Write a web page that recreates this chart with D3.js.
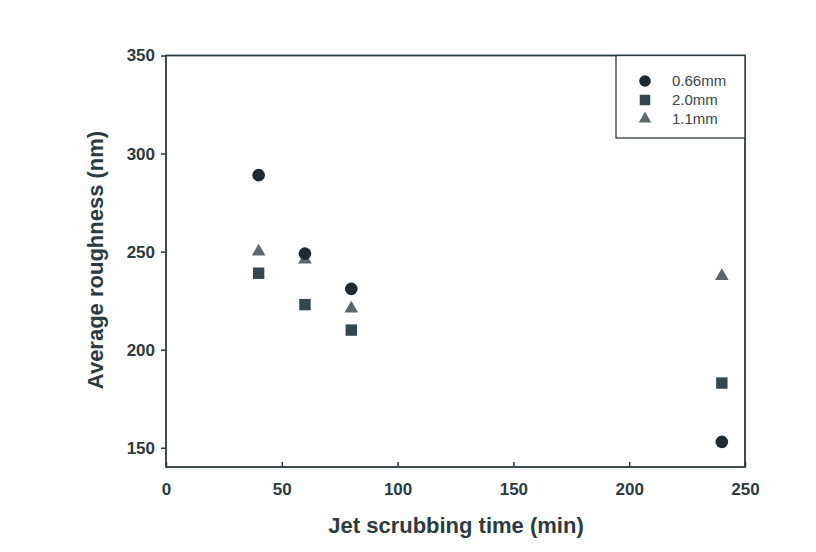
<!DOCTYPE html>
<html><head><meta charset="utf-8">
<script src="https://cdn.jsdelivr.net/npm/d3@7"></script>
<style>body{margin:0;background:#fff;}svg{display:block;}</style>
</head><body>
<svg id="chart" width="816" height="552"></svg>
<script>
const times = [40, 60, 80, 240];
const seriesNames = ["0.66mm", "2.0mm", "1.1mm"];
const rough066 = [289, 249, 231, 153];
const rough20 = [239, 223, 210, 183];
const rough11 = [250, 246, 221, 237.5];
const xTicks = [0, 50, 100, 150, 200, 250];
const yTicks = [150, 200, 250, 300, 350];

const svg = d3.select("#chart");
const axisColor = "#2b3b42";
const x = d3.scaleLinear().domain([0, 250]).range([166, 745]);
const y = d3.scaleLinear().domain([140.2, 350]).range([467, 55.5]);

const series = [
  {name: seriesNames[0], values: rough066, shape: d3.symbolCircle, size: 125, color: "#1f2b31"},
  {name: seriesNames[1], values: rough20, shape: d3.symbolSquare, size: 130, color: "#34474e"},
  {name: seriesNames[2], values: rough11, shape: d3.symbolTriangle, size: 80, color: "#5c676c"}
];

// frame
svg.append("rect").attr("x", x(0)).attr("y", y(350)).attr("width", x(250) - x(0)).attr("height", y(140.2) - y(350))
  .attr("fill", "none").attr("stroke", axisColor).attr("stroke-width", 1.8);

// x axis
const xAxis = d3.axisBottom(x).tickValues(xTicks).tickSizeInner(-5).tickSizeOuter(0).tickPadding(16);
const gx = svg.append("g").attr("transform", `translate(0,${y(140.2)})`).call(xAxis);
gx.select(".domain").remove();
gx.selectAll(".tick line").attr("stroke", axisColor).attr("stroke-width", 1.5);
gx.selectAll(".tick text").attr("fill", axisColor).style("font", "bold 17px 'Liberation Sans', Arial, sans-serif");

// y axis
const yAxis = d3.axisLeft(y).tickValues(yTicks).tickSizeInner(5).tickSizeOuter(0).tickPadding(6);
const gy = svg.append("g").attr("transform", `translate(${x(0)},0)`).call(yAxis);
gy.select(".domain").remove();
gy.selectAll(".tick line").attr("stroke", axisColor).attr("stroke-width", 1.5);
gy.selectAll(".tick text").attr("fill", axisColor).style("font", "bold 17px 'Liberation Sans', Arial, sans-serif");

// titles
svg.append("text").attr("x", 456).attr("y", 533).attr("text-anchor", "middle").attr("fill", axisColor)
  .style("font", "bold 22px 'Liberation Sans', Arial, sans-serif").text("Jet scrubbing time (min)");
svg.append("text").attr("transform", "translate(103,260) rotate(-90)").attr("text-anchor", "middle").attr("fill", axisColor)
  .style("font", "bold 22px 'Liberation Sans', Arial, sans-serif").text("Average roughness (nm)");

// points (draw squares, triangles, then circles)
const order = [1, 2, 0];
order.forEach(i => {
  const s = series[i];
  svg.append("g").selectAll("path").data(times.map((t, j) => ({t, v: s.values[j]}))).join("path")
    .attr("transform", d => `translate(${x(d.t)},${y(d.v)})`)
    .attr("d", d3.symbol().type(s.shape).size(s.size))
    .attr("fill", s.color);
});

// legend
const lg = svg.append("g");
lg.append("rect").attr("x", 616).attr("y", y(350)).attr("width", x(250) - 616).attr("height", 138 - y(350))
  .attr("fill", "#fff").attr("stroke", axisColor).attr("stroke-width", 1.3);
const rowsY = [81, 100, 119];
series.forEach((s, i) => {
  lg.append("path").attr("transform", `translate(645,${rowsY[i]})`)
    .attr("d", d3.symbol().type(s.shape).size(s.size * 0.85)).attr("fill", s.color);
  lg.append("text").attr("x", 672).attr("y", rowsY[i] + 5).attr("fill", "#3a474c")
    .style("font", "15px 'Liberation Sans', Arial, sans-serif").text(s.name);
});
</script>
</body></html>
